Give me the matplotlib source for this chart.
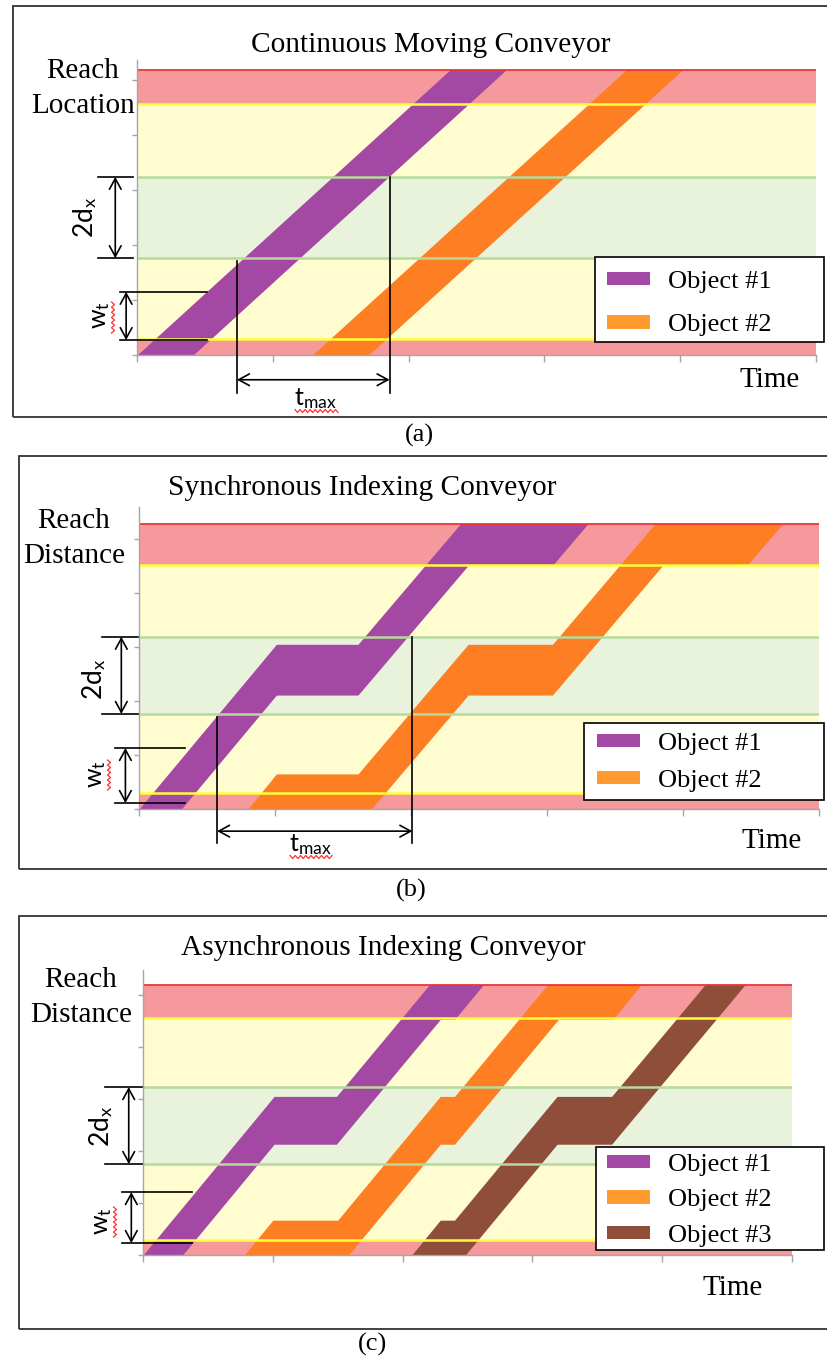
import numpy as np
import matplotlib
matplotlib.use("Agg")
import matplotlib.pyplot as plt
from matplotlib.patches import Rectangle, Patch
from matplotlib.lines import Line2D

plt.rcParams['mathtext.fontset'] = 'custom'
plt.rcParams['mathtext.rm'] = 'Lato'
plt.rcParams['mathtext.it'] = 'Lato:italic'

W, H = 828, 1358

# ---- data (time in tick units, position in tick units) ----
titles = ["Continuous Moving Conveyor", "Synchronous Indexing Conveyor",
          "Asynchronous Indexing Conveyor"]
ylabels = [["Reach", "Location"], ["Reach", "Distance"], ["Reach", "Distance"]]
captions = ["(a)", "(b)", "(c)"]
obj_names = ["Object #1", "Object #2", "Object #3"]
obj_colors = ["#A349A4", "#FD7E23", "#8E4E3A"]
legend_colors = ["#A349A4", "#FF9A2E", "#8E4E3A"]

# zone boundaries: bottom, reach min, window low, window high, reach max, top
zones_a = [0.0, 0.29, 1.76, 3.24, 4.56, 5.18]
zones_b = [0.0, 0.30, 1.76, 3.19, 4.52, 5.28]
zones_c = [0.0, 0.29, 1.75, 3.23, 4.56, 5.19]

# object height (position extent) per panel
height_a, height_b, height_c = 0.93, 0.94, 0.92

# (a) continuous conveyor
a1_t = [0.0, 2.8]
a1_p = [0.0, 6.3]
a2_t = [1.29, 4.1]
a2_p = [0.0, 6.3]

# (b) synchronous indexing
b1_t = [0.0, 1.01, 1.61, 2.42, 3.04, 3.85]
b1_p = [0.0, 3.05, 3.05, 5.45, 5.45, 7.85]
b2_t = [0.80, 1.01, 1.61, 2.42, 3.04, 3.85, 4.47, 5.1]
b2_p = [0.0, 0.65, 0.65, 3.05, 3.05, 5.45, 5.45, 7.3]

# (c) asynchronous indexing
c1_t = [0.0, 1.01, 1.49, 2.29, 2.40, 3.2]
c1_p = [0.0, 3.05, 3.05, 5.45, 5.45, 7.85]
c2_t = [0.78, 1.0, 1.50, 2.29, 2.40, 3.20, 3.62, 4.4]
c2_p = [0.0, 0.67, 0.67, 3.05, 3.05, 5.45, 5.45, 7.85]
c3_t = [2.07, 2.29, 2.40, 3.19, 3.61, 4.9]
c3_p = [0.0, 0.67, 0.67, 3.05, 3.05, 6.9]

# annotation spots (data units)
wt_a = [0.27, 1.15]
wt_b = [0.11, 1.13]
wt_c = [0.23, 1.21]
tmax_a = [0.736, 1.86]
tmax_b = [0.574, 2.01]

pink = "#F5999D"
yellow = "#FFFDD0"
green = "#E9F3DB"
red_line = "#EE3535"
yellow_line = "#FFFF3A"
green_line = "#B5DA9B"
axis_gray = "#A6A6A6"

serif = "Liberation Serif"
sans = "Lato"

fig = plt.figure(figsize=(W / 100, H / 100), dpi=100)


def fx(x):
    return x / W


def fy(y):
    return 1 - y / H


def squiggle(x0, x1, y0, y1):
    n = int(max(abs(x1 - x0), abs(y1 - y0)) / 2.5) + 1
    s = np.linspace(0, 1, n)
    off = np.where(np.arange(n) % 2 == 0, -1.5, 1.5)
    xs = x0 + (x1 - x0) * s
    ys = y0 + (y1 - y0) * s
    if x0 == x1:
        xs = xs + off
    else:
        ys = ys + off
    fig.add_artist(Line2D(fx(xs), fy(ys), color="#FF3030", lw=0.9,
                          transform=fig.transFigure))


panels = [
    dict(rect=(137, 816, 355, 60), zones=zones_a, h=height_a,
         objs=[(a1_t, a1_p), (a2_t, a2_p)], wt=wt_a, tmax=tmax_a,
         dx=(-0.29, -0.03, -0.16), wx=(-0.125, 0.515, -0.08), tmax_y=(-0.69, -0.45),
         box=(13, 6, 417), cap=(419, 435), title=(431, 52),
         reach=(83, 78, 113), time=(740, 387),
         txt_2d=(85, 217), txt_wt=(100, 315), sq_wt=(113, 302, 333),
         txt_tm=(315, 399), sq_tm=(295, 338, 411),
         leg=(595, 257, 342, 607, 271, 0.8)),
    dict(rect=(139, 819, 809, 507), zones=zones_b, h=height_b,
         objs=[(b1_t, b1_p), (b2_t, b2_p)], wt=wt_b, tmax=tmax_b,
         dx=(-0.27, -0.01, -0.13), wx=(-0.18, 0.34, -0.10), tmax_y=(-0.63, -0.41),
         box=(19, 456, 869), cap=(411, 890), title=(362, 495),
         reach=(74, 528, 563), time=(742, 848),
         txt_2d=(94, 679), txt_wt=(96, 774), sq_wt=(109, 760, 790),
         txt_tm=(310, 845), sq_tm=(290, 332, 857),
         leg=(584, 723, 800, 597, 733, 0.57)),
    dict(rect=(143, 792, 1255, 970), zones=zones_c, h=height_c,
         objs=[(c1_t, c1_p), (c2_t, c2_p), (c3_t, c3_p)], wt=wt_c, tmax=None,
         dx=(-0.29, -0.01, -0.11), wx=(-0.16, 0.38, -0.09), tmax_y=None,
         box=(19, 916, 1329), cap=(373, 1344), title=(383, 955),
         reach=(81, 987, 1022), time=(703, 1295),
         txt_2d=(101, 1126), txt_wt=(102, 1221), sq_wt=(115, 1207, 1237),
         txt_tm=None, sq_tm=None,
         leg=(596, 1147, 1250, 607, 1154, 0.51)),
]

for k, pn in enumerate(panels):
    x0, x1, yb, yt = pn["rect"]
    z = pn["zones"]
    ax = fig.add_axes([fx(x0), fy(yb), (x1 - x0) / W, (yb - yt) / H])
    yunit = {0: 55, 1: 54, 2: 52}[k]
    ytop = (yb - yt) / yunit
    ax.set_xlim(0, 5)
    ax.set_ylim(0, ytop)
    ax.set_facecolor("none")

    # zones
    ax.axhspan(z[0], z[1], color=pink, lw=0, zorder=0)
    ax.axhspan(z[1], z[2], color=yellow, lw=0, zorder=0)
    ax.axhspan(z[2], z[3], color=green, lw=0, zorder=0)
    ax.axhspan(z[3], z[4], color=yellow, lw=0, zorder=0)
    ax.axhspan(z[4], z[5], color=pink, lw=0, zorder=0)

    clip = Rectangle((0, 0), 5, z[5], transform=ax.transData)
    for i, (t, p) in enumerate(pn["objs"]):
        t = np.array(t)
        p = np.array(p)
        poly = ax.fill_between(t, p - pn["h"], p, color=obj_colors[i], lw=0, zorder=1)
        poly.set_clip_path(clip)

    ax.axhline(z[5], color=red_line, lw=1.3, zorder=2)
    for lv in (z[1], z[4]):
        ax.axhline(lv, color=yellow_line, lw=1.8, zorder=2)
    for lv in (z[2], z[3]):
        ax.axhline(lv, color=green_line, lw=1.8, zorder=2)

    for s in ("top", "right"):
        ax.spines[s].set_visible(False)
    for s in ("left", "bottom"):
        ax.spines[s].set_color(axis_gray)
        ax.spines[s].set_linewidth(1.0)
        ax.spines[s].set_zorder(3)
    ax.set_xticks(range(6))
    ax.set_yticks(range(6))
    ax.set_xticklabels([])
    ax.set_yticklabels([])
    ax.tick_params(axis="x", length=5, width=1, color=axis_gray)
    ax.tick_params(axis="y", length=3.5, width=1, color=axis_gray)

    arrow = dict(arrowstyle="<->,head_length=0.55,head_width=0.3",
                 lw=1.2, color="black", shrinkA=0, shrinkB=0, mutation_scale=14)
    # 2d_x dimension
    lx0, lx1, ax_x = pn["dx"]
    for lv in (z[2], z[3]):
        ax.plot([lx0, lx1], [lv, lv], color="black", lw=1.2, clip_on=False, zorder=4)
    ax.annotate("", xy=(ax_x, z[2]), xytext=(ax_x, z[3]),
                arrowprops=arrow, annotation_clip=False)
    # w_t dimension
    wx0, wx1, wx = pn["wx"]
    for lv in pn["wt"]:
        ax.plot([wx0, wx1], [lv, lv], color="black", lw=1.2, clip_on=False, zorder=4)
    ax.annotate("", xy=(wx, pn["wt"][0]), xytext=(wx, pn["wt"][1]),
                arrowprops=arrow, annotation_clip=False)
    # t_max dimension
    if pn["tmax"] is not None:
        ybot, yarr = pn["tmax_y"]
        t1, t2 = pn["tmax"]
        ax.plot([t1, t1], [z[2] - 0.05, ybot], color="black", lw=1.2, clip_on=False, zorder=4)
        ax.plot([t2, t2], [z[3], ybot], color="black", lw=1.2, clip_on=False, zorder=4)
        ax.annotate("", xy=(t1, yarr), xytext=(t2, yarr),
                    arrowprops=arrow, annotation_clip=False)

    # texts
    bx, by0, by1 = pn["box"]
    fig.add_artist(Rectangle((fx(bx), fy(by1)), fx(840) - fx(bx), (by1 - by0) / H,
                             transform=fig.transFigure, fill=False,
                             edgecolor="#333333", lw=1.3))
    fig.text(fx(pn["cap"][0]), fy(pn["cap"][1]), captions[k], family=serif,
             fontsize=19, ha="center", va="center")
    fig.text(fx(pn["title"][0]), fy(pn["title"][1]), titles[k], family=serif,
             fontsize=21.2, ha="center", va="baseline")
    rx, ry1, ry2 = pn["reach"]
    fig.text(fx(rx), fy(ry1), ylabels[k][0], family=serif, fontsize=21,
             ha="center", va="baseline")
    fig.text(fx(rx), fy(ry2), ylabels[k][1], family=serif, fontsize=21,
             ha="center", va="baseline")
    fig.text(fx(pn["time"][0]), fy(pn["time"][1]), "Time", family=serif,
             fontsize=21, ha="left", va="baseline")
    fig.text(fx(pn["txt_2d"][0]), fy(pn["txt_2d"][1]), r"2d$_{\mathrm{x}}$",
             family=sans, fontsize=19, rotation=90, ha="center", va="center")
    fig.text(fx(pn["txt_wt"][0]), fy(pn["txt_wt"][1]), r"w$_{\mathrm{t}}$",
             family=sans, fontsize=18, rotation=90, ha="center", va="center")
    sx, sy0, sy1 = pn["sq_wt"]
    squiggle(sx, sx, sy0, sy1)
    if pn["txt_tm"] is not None:
        fig.text(fx(pn["txt_tm"][0]), fy(pn["txt_tm"][1]), r"t$_{\mathrm{max}}$",
                 family=sans, fontsize=18, ha="center", va="center")
        qx0, qx1, qy = pn["sq_tm"]
        squiggle(qx0, qx1, qy, qy)

    # legend
    lbx, lby0, lby1, lhx, lhy, lsp = pn["leg"]
    n = len(pn["objs"])
    fig.add_artist(Rectangle((fx(lbx), fy(lby1)), fx(824) - fx(lbx), (lby1 - lby0) / H,
                             transform=fig.transFigure, facecolor="white",
                             edgecolor="black", lw=1.2, zorder=4))
    handles = [Patch(facecolor=legend_colors[i], edgecolor="none") for i in range(n)]
    leg = fig.legend(handles, obj_names[:n], loc="upper left",
                     bbox_to_anchor=(fx(lhx), fy(lhy)), frameon=False,
                     borderpad=0, borderaxespad=0, handlelength=1.63,
                     handleheight=0.42, handletextpad=0.68, labelspacing=lsp,
                     prop=dict(family=serif, size=19))
    leg.set_zorder(5)

fig.savefig("out.png", dpi=100)
